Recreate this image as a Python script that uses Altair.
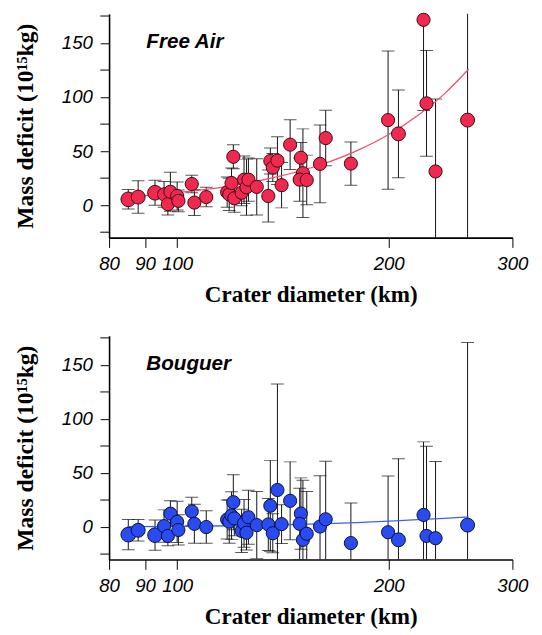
import altair as alt
import pandas as pd

# ---- data ----
diameter = [85.2, 88.0, 93.0, 95.8, 97.0, 97.8, 100.0, 100.4, 104.9, 105.8, 110.0,
            117.8, 118.6, 119.5, 120.2, 120.6, 123.5, 124.5, 125.5, 126.3,
            129.8, 134.8, 135.7, 136.8, 138.9, 140.8, 144.8, 150.0, 151.0, 149.4, 152.9,
            159.7, 162.7, 176.7, 199.6, 206.5, 224.2, 226.4, 233.2, 259.0]

free_air = [5.4, 7.5, 11.5, 10, 0.9, 12.4, 8.5, 4, 19.6, 2.4, 7.5,
            12, 10, 20.5, 44.8, 6.4, 11.5, 23.6, 16.6, 23.6,
            16.9, 8.5, 40.9, 34.8, 41.2, 18.5, 56, 43.9, 29.6, 23.6, 23.3,
            38.2, 62.1, 38.5, 78.7, 66, 171.5, 94.2, 31.2, 78.7]
free_air_err = [9, 15, 11.5, 12, 10, 18, 13, 10, 8, 12, 9,
                14, 15, 14, 11, 13, 12, 22, 26, 20,
                26, 24, 12, 13, 22, 21, 23, 14, 41, 20, 23,
                36, 25.7, 20, 64, 40.6, 84, 49, 67, 125]

bouguer = [-7, -3, -7.5, 0.9, -8.2, 12.4, 4.8, -2.7, 14.5, 3, 0,
           7, 5, 10.6, 23, 8, -3.6, 3.4, -5.2, 9.1,
           1.8, 2.4, 19.7, -5.7, 34.3, 2.7, 24.3, 12.5, -11.8, 3, -6.2,
           0.5, 7.2, -14.8, -4.8, -11.8, 11.2, -8.2, -10.3, 1.8]
bouguer_err = [14, 10, 14, 15, 9, 12, 19, 14, 13, 18, 15,
               18, 20, 22, 25.5, 16, 20, 22, 16, 25,
               31, 24, 42, 18, 98, 18, 36, 33, 55, 33, 39,
               47, 53.6, 37, 52, 75, 67.6, 83, 71, 169]

marker_class = ["large", "mid", "large"] + ["small"] * 32 + ["mid", "small", "small", "small", "mid"]

fit_diameter = [85, 100, 120, 140, 160, 180, 200, 220, 240, 260]
free_air_fit = [7.8, 11.6, 18.2, 26.8, 37.4, 50.3, 65.4, 83, 103, 126]
bouguer_fit = [0.3, 0.6, 1.2, 2.0, 3.0, 4.2, 5.5, 6.8, 8.1, 9.4]

x_ticks = [80, 90, 100, 200, 300]
y_ticks = [0, 50, 100, 150]
y_minor_ticks = [-25, 25, 75, 125, 175]
X_DOMAIN = [80, 300]
Y_DOMAIN = [-30, 177]

Y_TITLE = "Mass deficit (10\u00b9\u2075kg)"
X_TITLE = "Crater diameter (km)"


def panel(name, values, errors, fit, fill, stroke, line_color):
    df = pd.DataFrame({"d": diameter, "m": values, "e": errors, "cls": marker_class})
    df["lo"] = df["m"] - df["e"]
    df["hi"] = df["m"] + df["e"]
    fit_df = pd.DataFrame({"d": fit_diameter, "m": fit})
    minor_df = pd.DataFrame({"v": y_minor_ticks})

    xscale = alt.Scale(type="log", domain=X_DOMAIN, nice=False)
    yscale = alt.Scale(domain=Y_DOMAIN, nice=False, zero=False)
    xaxis = alt.Axis(values=x_ticks, format="d", title=X_TITLE,
                     labelFlush=False, labelOverlap=False)
    yaxis = alt.Axis(values=y_ticks, title=Y_TITLE, labelOverlap=False)

    def X():
        return alt.X("d:Q", scale=xscale, axis=xaxis)

    def Y(field):
        return alt.Y(field, scale=yscale, axis=yaxis)

    base = alt.Chart(df)
    rules = base.mark_rule(color="#111111", strokeWidth=1, clip=True).encode(
        x=X(), y=Y("lo:Q"), y2="hi:Q")
    cap_lo = base.mark_tick(orient="horizontal", size=13, thickness=1,
                            color="#111111", clip=True).encode(x=X(), y=Y("lo:Q"))
    cap_hi = base.mark_tick(orient="horizontal", size=13, thickness=1,
                            color="#111111", clip=True).encode(x=X(), y=Y("hi:Q"))
    line = alt.Chart(fit_df).mark_line(color=line_color, strokeWidth=1.3,
                                       interpolate="monotone", clip=True).encode(
        x=X(), y=Y("m:Q"))
    pts = base.mark_circle(opacity=1, color=fill, stroke=stroke, strokeWidth=1).encode(
        x=X(), y=Y("m:Q"),
        size=alt.Size("cls:N", scale=alt.Scale(domain=["large", "mid", "small"],
                                               range=[225, 180, 92]), legend=None))
    minor = alt.Chart(minor_df).mark_rule(color="black", strokeWidth=1).encode(
        y=Y("v:Q"), x=alt.value(0), x2=alt.value(-9))
    label = alt.Chart(pd.DataFrame({"t": [name]})).mark_text(
        font="Liberation Sans", fontStyle="italic", fontWeight="bold", fontSize=21,
        align="left", baseline="alphabetic", color="black").encode(
        text="t:N", x=alt.value(38), y=alt.value(35))
    return alt.layer(rules, cap_lo, cap_hi, line, pts, minor, label).properties(
        width=411, height=228)


top = panel("Free Air", free_air, free_air_err, free_air_fit, "#F2294F", "#3a0a14", "#F0506E")
bottom = panel("Bouguer", bouguer, bouguer_err, bouguer_fit, "#2A4AF2", "#0a1038", "#3A62F0")

chart = alt.vconcat(top, bottom, spacing=30).properties(
    padding={"left": 6, "top": -3, "right": 6, "bottom": 2},
    background="white",
).configure_view(strokeWidth=0).configure_axis(
    domainColor="black", domainWidth=1.6, tickColor="black", tickWidth=1, tickSize=9,
    labelFont="Liberation Sans", labelFontStyle="italic", labelFontSize=19, labelColor="black",
    titleFont="Liberation Serif", titleFontWeight="bold", titleFontSize=23, titleColor="black",
    grid=False,
).configure_axisX(labelPadding=8, titlePadding=9, tickSize=10, titleFontSize=23.5).configure_axisY(
    labelPadding=8, titlePadding=24, titleFontSize=24)

chart.save("out.html", embed_options={"renderer": "svg", "actions": False})
